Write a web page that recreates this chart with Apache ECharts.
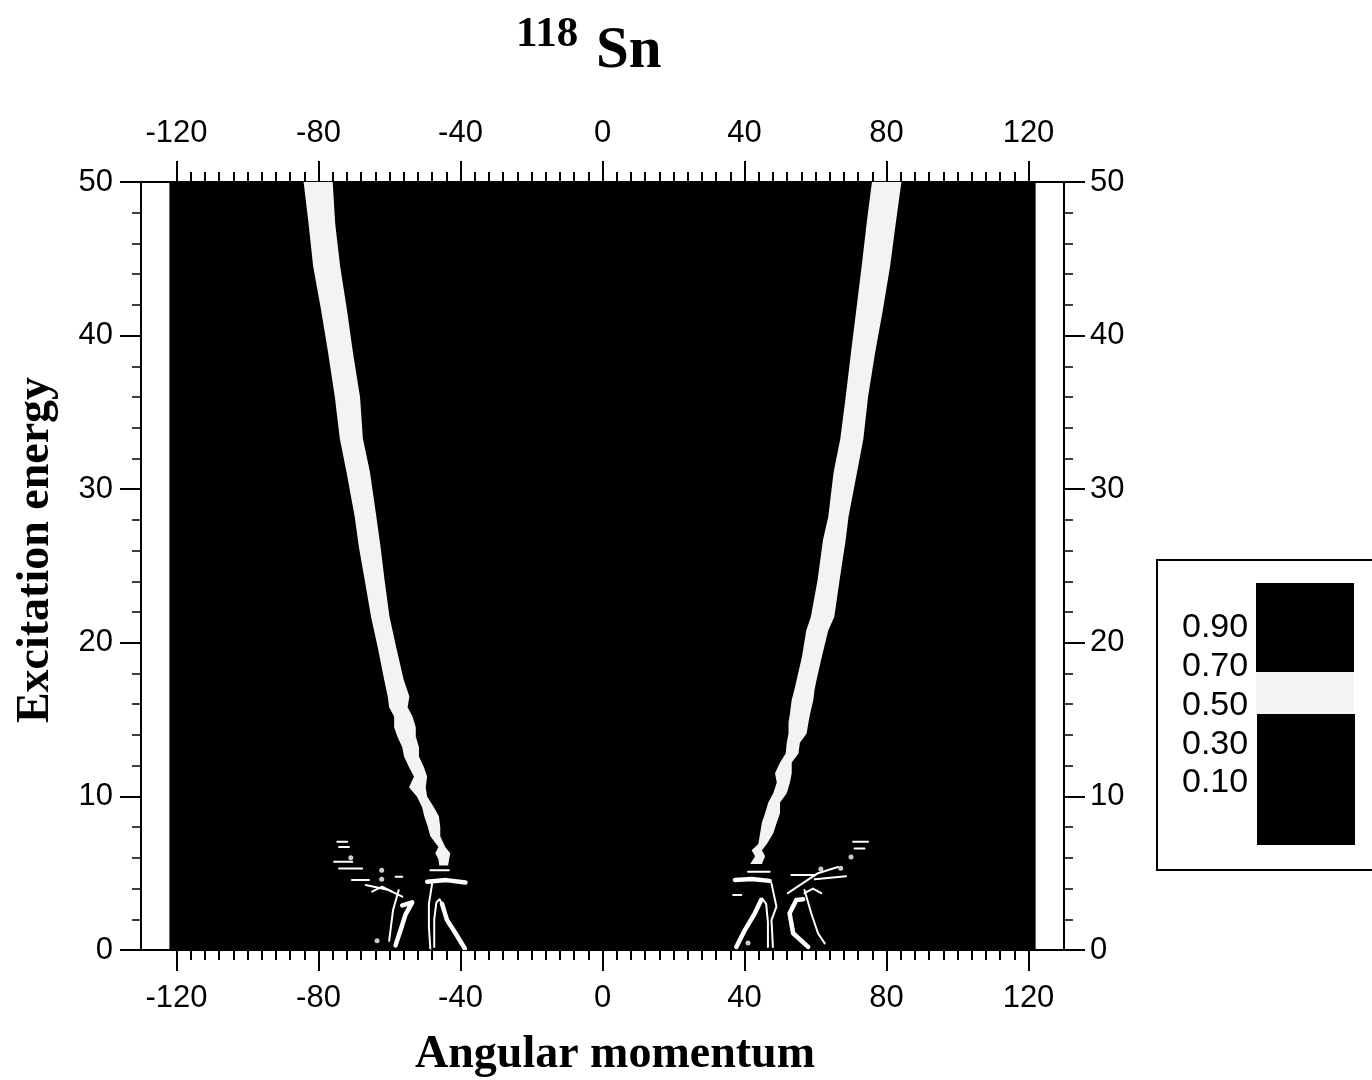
<!DOCTYPE html>
<html><head><meta charset="utf-8">
<script src="https://cdn.jsdelivr.net/npm/echarts@6/dist/echarts.min.js"></script>
<style>html,body{margin:0;padding:0;background:#fff}#c{width:1372px;height:1080px}</style>
</head><body><div id="c"></div>
<script>
// ---------------- data ----------------
const xMajorTicks = [-120, -80, -40, 0, 40, 80, 120];
const xMinorTicks = [-120,-116,-112,-108,-104,-100,-96,-92,-88,-84,-80,-76,-72,-68,-64,-60,-56,-52,-48,-44,-40,-36,-32,-28,-24,-20,-16,-12,-8,-4,0,4,8,12,16,20,24,28,32,36,40,44,48,52,56,60,64,68,72,76,80,84,88,92,96,100,104,108,112,116,120];
const yTicks = [0, 10, 20, 30, 40, 50];
const legendLevels = ['0.90', '0.70', '0.50', '0.30', '0.10'];
const dataXRange = [-122, 122];
const dataYRange = [0, 50];

// left band (level 0.5-0.7): energy, outer edge, inner edge
const leftBandE     = [50, 47.3, 44.5, 41.7, 38.9, 36.0, 33.3, 31.1, 28.2, 26.2, 24.1, 21.7, 19.7, 17.6, 16.5, 15.8, 15.2, 14.5, 13.9, 13.2, 12.6, 11.9, 11.3, 10.6, 10.0, 9.3, 8.7, 8.0, 7.4, 6.7, 6.3, 5.9, 5.5];
const leftBandOuter = [-84.2,-82.8,-81.5,-79.3,-77.3,-75.4,-74.0,-72.1,-69.8,-68.6,-67.0,-65.2,-63.3,-61.5,-60.5,-60.1,-58.7,-58.7,-57.8,-56.4,-55.9,-54.5,-53.1,-54.5,-52.3,-50.8,-50.2,-49.2,-48.5,-46.2,-47.1,-46.2,-46.0];
const leftBandInner = [-76.0,-75.3,-73.9,-72.0,-70.3,-68.3,-67.5,-65.5,-63.7,-62.5,-61.4,-60.0,-58.1,-56.0,-54.4,-54.9,-53.5,-52.6,-52.6,-51.7,-51.7,-50.3,-49.4,-49.8,-49.4,-47.5,-46.1,-45.7,-45.7,-44.3,-42.9,-43.2,-43.5];

// right band
const rightBandE     = [50, 47.3, 44.5, 41.7, 38.9, 36.0, 33.3, 31.1, 28.2, 26.7, 24.1, 21.7, 20.8, 19.1, 17.6, 16.9, 16.3, 15.4, 14.8, 14.1, 13.5, 12.8, 12.2, 11.5, 10.9, 10.2, 9.6, 8.9, 8.3, 7.6, 6.9, 6.5, 6.1, 5.6];
const rightBandInner = [75.9, 74.4, 73.0, 71.5, 70.0, 68.5, 67.0, 65.1, 63.6, 62.1, 60.6, 58.7, 57.4, 56.2, 54.7, 54.0, 53.3, 52.8, 52.4, 52.4, 51.9, 51.6, 50.0, 48.6, 49.1, 48.1, 46.7, 45.8, 44.9, 44.4, 43.9, 42.0, 43.0, 41.6];
const rightBandOuter = [84.2, 82.6, 81.0, 79.0, 76.8, 74.8, 73.5, 71.7, 69.3, 68.5, 66.8, 65.3, 63.6, 61.8, 60.3, 59.7, 59.4, 58.5, 58.0, 57.5, 55.6, 55.2, 53.3, 53.3, 52.8, 51.9, 50.0, 50.0, 49.1, 48.1, 46.3, 44.9, 45.8, 44.9];

// low-energy contour fragments [angular momentum, energy]
const thickContours = [
  [[-49.4,4.45],[-44.0,4.55],[-38.6,4.4]],
  [[-45.2,3.0],[-43.8,1.95],[-41.4,1.09],[-38.8,0.1]],
  [[-56.4,2.9],[-53.6,3.1],[-55.5,2.3],[-56.6,1.5],[-58.3,0.3]],
  [[37.3,4.56],[42.0,4.62],[47.1,4.5]],
  [[44.7,3.26],[42.9,2.39],[40.1,1.3],[37.7,0.2]],
  [[56.5,3.3],[54.6,3.26],[52.7,2.39],[53.7,1.09],[57.9,0.2]]
];
const thinContours = [
  [[-48.5,5.2],[-43.3,5.2]],
  [[-48.0,4.3],[-48.9,3.0],[-48.9,1.5],[-48.5,0.1]],
  [[-47.4,0.2],[-47.4,2.0],[-46.8,3.1],[-45.9,3.3],[-45.2,3.0]],
  [[-57.4,3.9],[-59.0,2.6],[-59.6,1.5],[-60.1,0.6]],
  [[-74.7,7.05],[-71.9,7.05]],
  [[-74.2,6.7],[-71.4,6.7]],
  [[-75.6,5.75],[-70.5,5.75]],
  [[-74.2,5.3],[-67.7,5.3]],
  [[-70.6,4.56],[-65.8,4.56]],
  [[-64.9,3.8],[-62.1,4.12],[-59.3,3.8]],
  [[-66.7,4.23],[-60.2,3.9],[-56.4,3.47]],
  [[-58.3,4.77],[-56.4,4.77]],
  [[41.0,5.1],[47.1,5.1]],
  [[47.6,4.34],[49.0,2.82],[47.6,1.95],[48.0,0.2]],
  [[43.9,3.0],[45.0,3.35],[46.1,3.0],[46.6,1.8],[46.6,0.2]],
  [[56.9,3.91],[58.8,2.39],[60.7,1.09],[62.6,0.43]],
  [[53.2,4.88],[59.8,4.88]],
  [[59.8,4.6],[68.6,4.8]],
  [[70.6,7.05],[74.8,7.05]],
  [[71.0,6.6],[73.8,6.6]],
  [[56.9,3.7],[59.3,4.0],[61.6,3.7]],
  [[52.2,3.7],[60.7,5.0],[66.3,5.4]],
  [[36.8,3.58],[39.1,3.58]]
];
const contourDots = [[-70.9,6.0],[-62.2,5.2],[-62.2,4.6],[-63.5,0.6],[61.5,5.27],[67.1,5.33],[70.0,6.05],[41.0,0.45]];

// ---------------- chart ----------------
const BAND_COLOR = '#f3f3f3';
const leftBandPoly = leftBandE.map((e,i)=>[leftBandOuter[i], e]).concat(leftBandE.map((e,i)=>[leftBandInner[i], e]).reverse());
const rightBandPoly = rightBandE.map((e,i)=>[rightBandInner[i], e]).concat(rightBandE.map((e,i)=>[rightBandOuter[i], e]).reverse());

const chart = echarts.init(document.getElementById('c'), null, {renderer:'canvas'});
const sansFont = 'Liberation Sans';
const black = '#000';

function xAx(pos, major) {
  return {
    type:'value', min:-130, max:130, position:pos, gridIndex:0,
    axisLine:{show:major, onZero:false, lineStyle:{color:black, width:2}},
    axisTick:{show:true, inside:false, customValues: major ? xMajorTicks : xMinorTicks,
      length: major ? 21 : 10, lineStyle:{color:black, width:2}},
    axisLabel:{show:major, customValues:xMajorTicks, fontSize:31, fontFamily:sansFont, color:black, margin:33},
    splitLine:{show:false}
  };
}
function yAx(pos) {
  return {
    type:'value', min:0, max:50, interval:10, position:pos, gridIndex:0,
    axisLine:{show:true, onZero:false, lineStyle:{color:black, width:2}},
    axisTick:{show:true, inside:false, length:21, lineStyle:{color:black, width:2}},
    minorTick:{show:true, splitNumber:5, length:9, lineStyle:{color:black, width:1.5}},
    axisLabel:{fontSize:31, fontFamily:sansFont, color:black, margin: pos==='left' ? 28 : 26},
    splitLine:{show:false}, minorSplitLine:{show:false}
  };
}

const option = {
  animation:false,
  backgroundColor:'#fff',
  grid:{left:141, right:308, top:182, bottom:130, containLabel:false},
  xAxis:[xAx('bottom', true), xAx('bottom', false), xAx('top', true), xAx('top', false)],
  yAxis:[yAx('left'), yAx('right')],
  series:[
    {
      type:'custom', xAxisIndex:0, yAxisIndex:0, clip:true, z:1,
      data:[[dataXRange[0], dataYRange[1]]],
      renderItem:function(params, api){
        const p0 = api.coord([dataXRange[0], dataYRange[1]]);
        const p1 = api.coord([dataXRange[1], dataYRange[0]]);
        return {type:'rect', shape:{x:p0[0], y:p0[1], width:p1[0]-p0[0], height:p1[1]-p0[1]}, style:{fill:black}};
      }
    },
    {
      type:'custom', xAxisIndex:0, yAxisIndex:0, clip:true, z:2,
      data:[leftBandPoly[0], rightBandPoly[0]],
      renderItem:function(params, api){
        const poly = params.dataIndex === 0 ? leftBandPoly : rightBandPoly;
        return {type:'polygon', shape:{points:poly.map(p=>api.coord(p))}, style:{fill:BAND_COLOR}};
      }
    },
    {
      type:'custom', xAxisIndex:0, yAxisIndex:0, clip:true, z:3,
      data:thickContours.map(s=>s[0]),
      renderItem:function(params, api){
        const s = thickContours[params.dataIndex];
        return {type:'polyline', shape:{points:s.map(p=>api.coord(p))}, style:{stroke:'#fff', fill:null, lineWidth:4.5, lineJoin:'round', lineCap:'round'}};
      }
    },
    {
      type:'custom', xAxisIndex:0, yAxisIndex:0, clip:true, z:3,
      data:thinContours.map(s=>s[0]),
      renderItem:function(params, api){
        const s = thinContours[params.dataIndex];
        return {type:'polyline', shape:{points:s.map(p=>api.coord(p))}, style:{stroke:'#fff', fill:null, lineWidth:2, lineJoin:'round', lineCap:'round'}};
      }
    },
    {
      type:'scatter', xAxisIndex:0, yAxisIndex:0, z:3, symbol:'circle', symbolSize:5,
      itemStyle:{color:'#fff'}, data:contourDots, silent:true
    }
  ],
  graphic:[
    {type:'text', x:516, y:35, z:10, style:{text:'118', font:'bold 43px "Liberation Serif"', fill:black, align:'left', verticalAlign:'middle'}},
    {type:'text', x:596, y:52, z:10, style:{text:'Sn', font:'bold 59px "Liberation Serif"', fill:black, align:'left', verticalAlign:'middle'}},
    {type:'text', x:615, y:1055, z:10, style:{text:'Angular momentum', font:'bold 46px "Liberation Serif"', fill:black, align:'center', verticalAlign:'middle'}},
    {type:'text', x:36, y:550, rotation:Math.PI/2, z:10, style:{text:'Excitation energy', font:'bold 46px "Liberation Serif"', fill:black, align:'center', verticalAlign:'middle'}},
    {type:'rect', z:10, shape:{x:1157, y:560, width:240, height:310}, style:{fill:'#fff', stroke:black, lineWidth:2}},
    {type:'rect', z:11, shape:{x:1256, y:583, width:98, height:89}, style:{fill:black}},
    {type:'rect', z:11, shape:{x:1256, y:672, width:98, height:42}, style:{fill:BAND_COLOR}},
    {type:'rect', z:11, shape:{x:1257, y:714, width:98, height:131}, style:{fill:black}}
  ].concat(legendLevels.map((t,i)=>({
    type:'text', z:12, x:1182, y:628 + i*38.75,
    style:{text:t, font:'34px "Liberation Sans"', fill:black, align:'left', verticalAlign:'middle'}
  })))
};
chart.setOption(option);
</script></body></html>
